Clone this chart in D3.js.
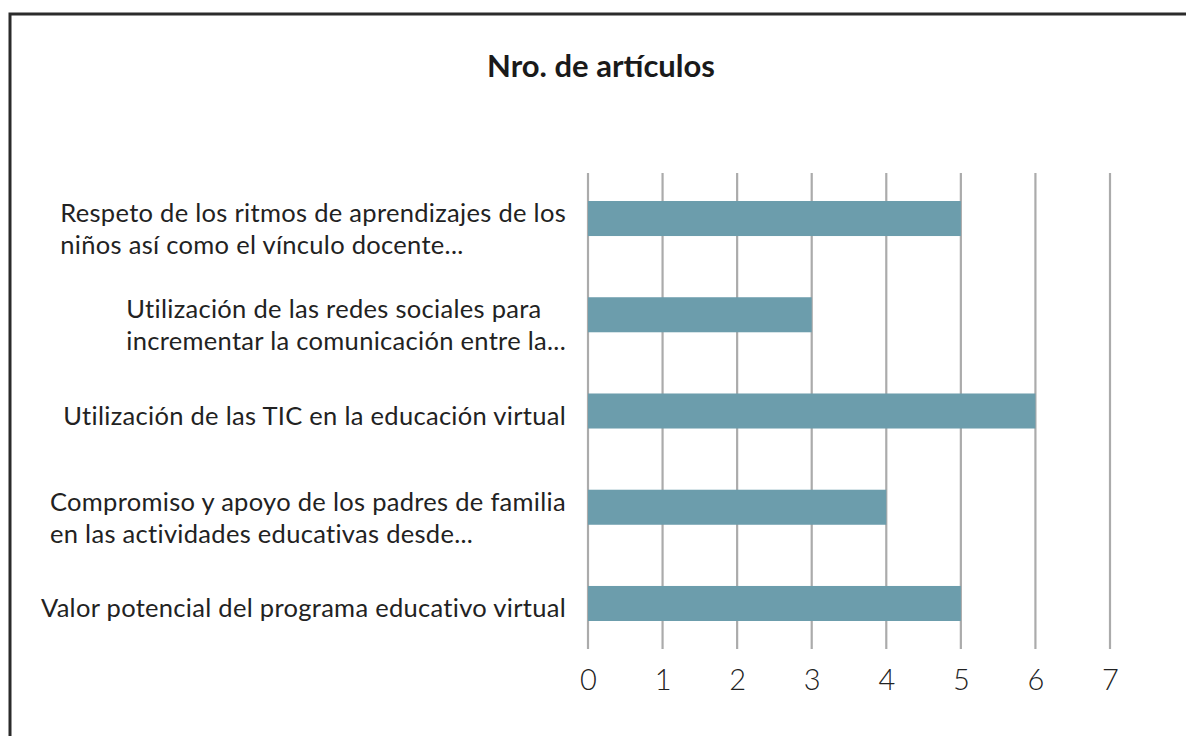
<!DOCTYPE html>
<html>
<head>
<meta charset="utf-8">
<script src="https://cdn.jsdelivr.net/npm/d3@7"></script>
<style>
  body { margin: 0; background: #fff; }
  svg { display: block; }
</style>
</head>
<body>
<svg id="chart" width="1186" height="736"></svg>
<script>
"use strict";

const title = 'Nro. de artículos';
const categories = [
  ['Respeto de los ritmos de aprendizajes de los', 'niños así como el vínculo docente...'],
  ['Utilización de las redes sociales para', 'incrementar la comunicación entre la...'],
  ['Utilización de las TIC en la educación virtual'],
  ['Compromiso y apoyo de los padres de familia', 'en las actividades educativas desde...'],
  ['Valor potencial del programa educativo virtual']
];
const values = [5, 3, 6, 4, 5];
const ticks = [0, 1, 2, 3, 4, 5, 6, 7];

const svg = d3.select('#chart');
const width = 1186, height = 736;
const font = 'Lato, "Open Sans", sans-serif';

// frame (only top and left edges show in the picture)
svg.append('rect')
  .attr('x', 10).attr('y', 14)
  .attr('width', width + 20).attr('height', height + 20)
  .attr('fill', 'none')
  .attr('stroke', '#2b2b2b')
  .attr('stroke-width', 3);

svg.append('text')
  .attr('x', 601).attr('y', 77)
  .attr('text-anchor', 'middle')
  .attr('font-family', font)
  .attr('font-weight', 'bold')
  .attr('font-size', 31)
  .attr('fill', '#1a1a1a')
  .text(title);

const xScale = d3.scaleLinear()
  .domain([0, 7])
  .range([588, 1110]);

const yScale = d3.scaleBand()
  .domain(d3.range(categories.length))
  .range([170.4, 651.6])
  .paddingInner(0.636)
  .paddingOuter(0.318);

const gridTop = 173, gridBottom = 649;

// vertical grid lines
svg.append('g')
  .selectAll('line')
  .data(ticks)
  .enter()
  .append('line')
  .attr('x1', (d) => xScale(d))
  .attr('x2', (d) => xScale(d))
  .attr('y1', gridTop)
  .attr('y2', gridBottom)
  .attr('stroke', '#ababab')
  .attr('stroke-width', 2.2);

svg.append('g')
  .selectAll('rect')
  .data(values)
  .enter()
  .append('rect')
  .attr('x', xScale(0))
  .attr('y', (d, i) => yScale(i))
  .attr('width', (d) => xScale(d) - xScale(0))
  .attr('height', yScale.bandwidth())
  .attr('fill', '#6c9dac');

// x tick labels
const xAxis = d3.axisBottom(xScale)
  .tickValues(ticks)
  .tickSize(0)
  .tickPadding(0)
  .tickFormat(d3.format('d'));

const axisGroup = svg.append('g')
  .attr('transform', 'translate(0,' + 669 + ')')
  .call(xAxis);
axisGroup.select('.domain').remove();
axisGroup.selectAll('text')
  .attr('font-family', font)
  .attr('font-weight', 300)
  .attr('font-size', 29)
  .attr('fill', '#222')
  .attr('dy', '0.71em');

// category labels: left aligned block, right edge near the axis
const labelGroup = svg.append('g');
categories.forEach((lines, i) => {
  const cy = yScale(i) + yScale.bandwidth() / 2;
  const lineH = 32;
  const shift = (lines.length - 1) * 5.5; // wrapped labels sit a bit low
  const t = labelGroup.append('text')
    .attr('font-family', font)
    .attr('font-size', 25.5)
    .attr('letter-spacing', 0.3)
    .attr('fill', '#222');
  lines.forEach((line, j) => {
    t.append('tspan')
      .attr('x', 0)
      .attr('y', cy + 14 + shift + (j - (lines.length - 1) / 2) * lineH)
      .text(line);
  });
  const w = t.node().getBBox().width;
  t.attr('transform', 'translate(' + (xScale(0) - 22 - w) + ',0)');
});
</script>
</body>
</html>
